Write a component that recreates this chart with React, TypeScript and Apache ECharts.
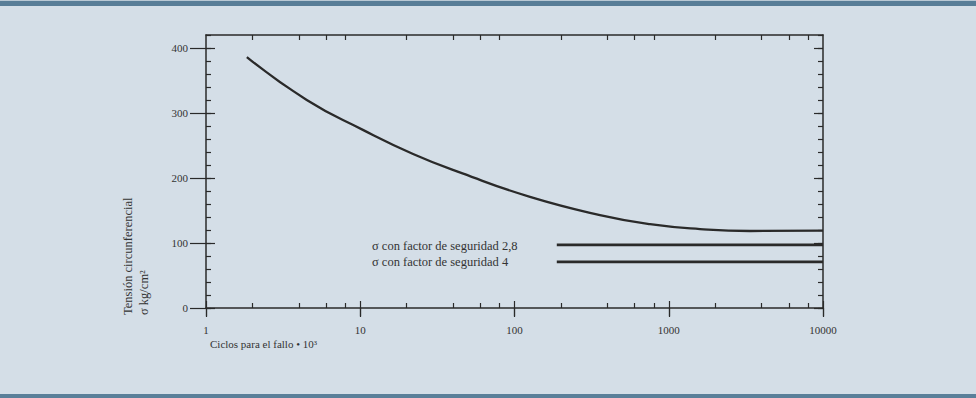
import React, { useEffect, useRef } from "react";
import * as echarts from "echarts";

// Data
const cyclesCurve = [1.84, 4.5, 10.4, 22, 46, 126, 358, 756, 1594, 3363, 10000];
const stressCurve = [386, 320, 274, 237, 207, 171, 143, 129, 121.5, 118.5, 119];
const safety28Cycles = [188, 10000];
const safety28Stress = [97, 97];
const safety4Cycles = [188, 10000];
const safety4Stress = [71, 71];
const xMajorTicks = [1, 10, 100, 1000, 10000];
const xMinorTicks = [2, 4, 6, 8, 20, 40, 60, 80, 200, 400, 600, 800, 2000, 4000, 6000, 8000];
const yMajorTicks = [0, 100, 200, 300, 400];
const yMin = 0;
const yMax = 420;
const yMinorInterval = 20;
const label28 = "σ con factor de seguridad 2,8";
const label4 = "σ con factor de seguridad 4";
const xName = "Ciclos para el fallo • 10³";
const yName1 = "Tensión circunferencial";
const yName2 = "σ kg/cm²";

const FONT = "Liberation Serif";
const INK = "#2a2a2a";

const zip = (a: number[], b: number[]) => a.map((v, i) => [v, b[i]]);

export default function App() {
  const ref = useRef<HTMLDivElement>(null);
  useEffect(() => {
    if (!ref.current) return;
    const chart = echarts.init(ref.current, undefined, { renderer: "svg" });
    const hiddenLine = { show: false };
    const xBase = {
      type: "log" as const,
      logBase: 10,
      min: 1,
      max: 10000,
      gridIndex: 0,
      splitLine: { show: false },
      axisLabel: { show: false },
      axisLine: hiddenLine,
    };
    const yBase = {
      type: "value" as const,
      min: yMin,
      max: yMax,
      interval: yMinorInterval,
      gridIndex: 0,
      splitLine: { show: false },
      axisLabel: { show: false },
      axisLine: hiddenLine,
    };
    const tickStyle = { color: INK, width: 1.2 };
    chart.setOption({
      animation: false,
      backgroundColor: "transparent",
      grid: { left: 206, right: 153, top: 35, bottom: 90 },
      xAxis: [
        {
          ...xBase,
          position: "bottom",
          axisLine: { show: true, onZero: false, lineStyle: { color: INK, width: 1.5 } },
          axisTick: { show: true, inside: true, length: 5, customValues: xMinorTicks, lineStyle: tickStyle },
          axisLabel: {
            show: true,
            customValues: xMajorTicks,
            margin: 16,
            fontFamily: FONT,
            fontSize: 11,
            color: "#333",
            formatter: (v: number) => String(Math.round(v)),
          },
        },
        { ...xBase, position: "bottom", axisTick: { show: true, inside: true, length: 7, customValues: xMajorTicks, lineStyle: tickStyle } },
        { ...xBase, position: "bottom", axisTick: { show: true, inside: false, length: 9, customValues: xMajorTicks, lineStyle: tickStyle } },
        {
          ...xBase,
          position: "top",
          axisLine: { show: true, onZero: false, lineStyle: { color: INK, width: 1.5 } },
          axisTick: { show: true, inside: true, length: 5, customValues: xMinorTicks, lineStyle: tickStyle },
        },
        { ...xBase, position: "top", axisTick: { show: true, inside: true, length: 8, customValues: xMajorTicks, lineStyle: tickStyle } },
      ],
      yAxis: [
        {
          ...yBase,
          position: "left",
          axisLine: { show: true, onZero: false, lineStyle: { color: INK, width: 1.5 } },
          axisTick: { show: true, inside: true, length: 5, lineStyle: tickStyle },
          axisLabel: {
            show: true,
            customValues: yMajorTicks,
            margin: 18,
            fontFamily: FONT,
            fontSize: 11,
            color: "#333",
            formatter: (v: number) => String(v),
          },
        },
        { ...yBase, position: "left", axisTick: { show: true, inside: false, length: 16, customValues: yMajorTicks, lineStyle: tickStyle } },
        { ...yBase, position: "left", axisTick: { show: true, inside: true, length: 9, customValues: yMajorTicks, lineStyle: tickStyle } },
        {
          ...yBase,
          position: "right",
          axisLine: { show: true, onZero: false, lineStyle: { color: INK, width: 1.5 } },
          axisTick: { show: true, inside: true, length: 5, lineStyle: tickStyle },
        },
        { ...yBase, position: "right", axisTick: { show: true, inside: true, length: 9, customValues: yMajorTicks, lineStyle: tickStyle } },
      ],
      series: [
        {
          type: "line",
          name: "curve",
          xAxisIndex: 0,
          yAxisIndex: 0,
          data: zip(cyclesCurve, stressCurve),
          smooth: 0.5,
          showSymbol: false,
          lineStyle: { color: INK, width: 2.3 },
        },
        {
          type: "line",
          name: label28,
          xAxisIndex: 0,
          yAxisIndex: 0,
          data: zip(safety28Cycles, safety28Stress),
          showSymbol: false,
          lineStyle: { color: INK, width: 2.8 },
        },
        {
          type: "line",
          name: label4,
          xAxisIndex: 0,
          yAxisIndex: 0,
          data: zip(safety4Cycles, safety4Stress),
          showSymbol: false,
          lineStyle: { color: INK, width: 2.8 },
        },
      ],
      graphic: [
        {
          type: "text",
          left: 372,
          top: 239,
          style: { text: label28, fontFamily: FONT, fontSize: 12.5, fill: "#333" },
        },
        {
          type: "text",
          left: 372,
          top: 255,
          style: { text: label4, fontFamily: FONT, fontSize: 12.5, fill: "#333" },
        },
        {
          type: "text",
          left: 210,
          top: 338,
          style: { text: xName, fontFamily: FONT, fontSize: 11, fill: "#333" },
        },
        {
          type: "text",
          x: 128,
          y: 315,
          rotation: Math.PI / 2,
          style: { text: yName1, fontFamily: FONT, fontSize: 12.5, fill: "#333", textAlign: "left", textVerticalAlign: "middle" },
        },
        {
          type: "text",
          x: 144,
          y: 315,
          rotation: Math.PI / 2,
          style: { text: yName2, fontFamily: FONT, fontSize: 12.5, fill: "#333", textAlign: "left", textVerticalAlign: "middle" },
        },
      ],
    });
    return () => chart.dispose();
  }, []);

  return (
    <div style={{ position: "fixed", left: 0, top: 0, width: 976, height: 398, background: "#d4dee7", overflow: "hidden" }}>
      <div style={{ position: "absolute", left: 0, top: 0, width: 976, height: 1, background: "#b9c8d4" }} />
      <div style={{ position: "absolute", left: 0, top: 1, width: 976, height: 5, background: "#587d97" }} />
      <div style={{ position: "absolute", left: 0, top: 394, width: 976, height: 4, background: "#5a7f99" }} />
      <div ref={ref} style={{ position: "absolute", left: 0, top: 0, width: 976, height: 398 }} />
    </div>
  );
}
